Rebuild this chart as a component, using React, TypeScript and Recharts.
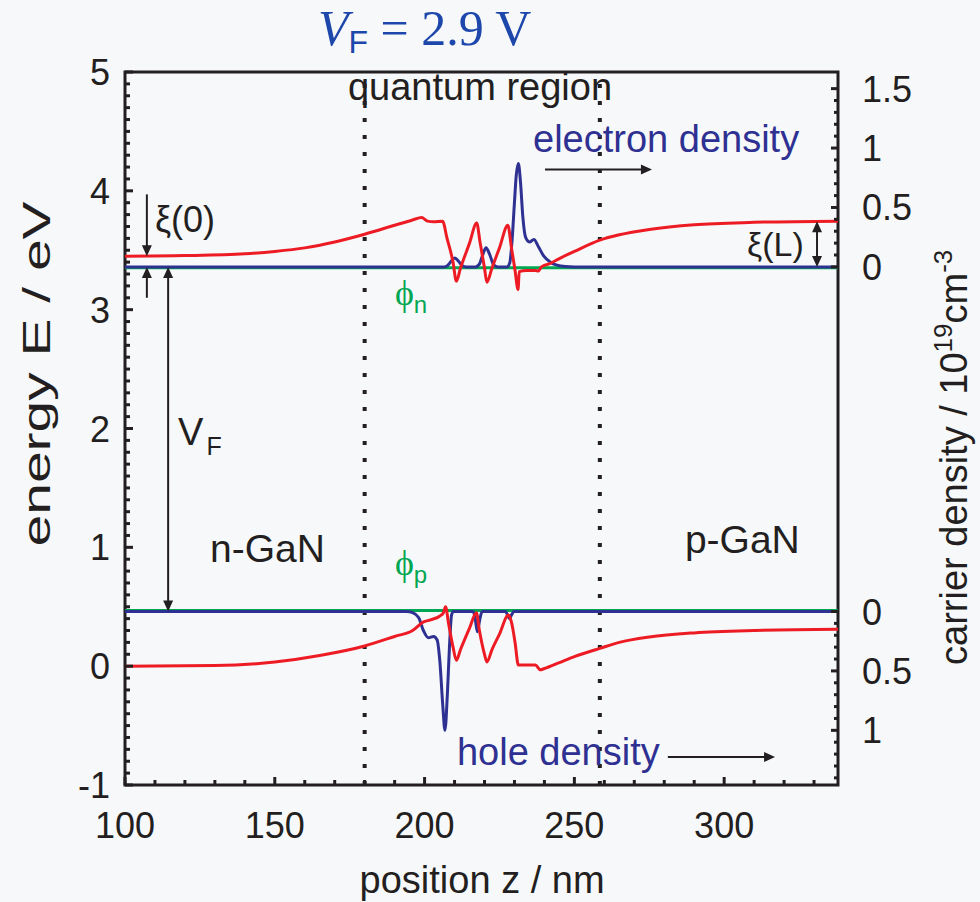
import React from 'react'
import {
  ComposedChart,
  Line,
  XAxis,
  YAxis,
  ReferenceLine,
  ReferenceArea,
  ReferenceDot,
} from 'recharts'

// ------------------------------------------------------------
// Band diagram of a GaN LED at V_F = 2.9 V
// energies in eV, position z in nm, densities in 1e19 cm^-3
// ------------------------------------------------------------

// conduction band edge Ec
const ecZ = [100, 120, 140, 150, 160, 170, 180, 190, 196, 199, 201, 203, 206, 207.5, 209.5, 210.6, 212, 215, 217.4, 218.5, 220, 220.8, 222.5, 225, 227.8, 229, 230.2, 231.2, 231.6, 234, 237, 238, 239, 242, 245, 250, 258.5, 265, 275, 290, 310, 338]
const ecE = [3.45, 3.455, 3.47, 3.49, 3.52, 3.57, 3.635, 3.71, 3.755, 3.775, 3.745, 3.74, 3.745, 3.6, 3.4, 3.24, 3.35, 3.56, 3.73, 3.57, 3.35, 3.23, 3.35, 3.52, 3.71, 3.52, 3.33, 3.17, 3.32, 3.33, 3.33, 3.325, 3.36, 3.39, 3.43, 3.49, 3.585, 3.63, 3.675, 3.715, 3.735, 3.745]

// valence band edge Ev
const evZ = [100, 130, 150, 165, 180, 190, 196, 199.5, 202, 205, 206.3, 207, 208, 209.5, 210.6, 212, 215, 217.3, 218.3, 220, 220.8, 222.5, 225, 228, 229, 230.2, 231.3, 234, 237, 238.6, 240, 245, 250, 258.5, 265, 275, 290, 310, 338]
const evE = [0, 0.005, 0.035, 0.09, 0.17, 0.25, 0.3, 0.37, 0.39, 0.42, 0.45, 0.5, 0.36, 0.16, 0.05, 0.14, 0.32, 0.45, 0.3, 0.1, 0.035, 0.14, 0.27, 0.43, 0.37, 0.2, 0.01, 0.01, 0.01, -0.03, -0.02, 0.03, 0.08, 0.15, 0.2, 0.245, 0.28, 0.3, 0.31]

// quasi fermi levels
const phiZ = [100, 338]
const phiN = [3.352, 3.352]
const phiP = [0.468, 0.468]

// electron density
const nZ = [100, 206.5, 207.6, 208.8, 210.1, 211.4, 212.6, 214, 217, 218.2, 219.4, 220.5, 221.8, 223, 224.5, 227.5, 228.4, 229.2, 229.9, 230.6, 231.3, 232, 232.8, 233.7, 235, 236.5, 238, 239.8, 242, 244.2, 247, 250, 338]
const nVal = [0, 0, 0.01, 0.045, 0.075, 0.045, 0.01, 0, 0, 0.02, 0.1, 0.16, 0.1, 0.02, 0, 0, 0.03, 0.22, 0.5, 0.77, 0.87, 0.72, 0.42, 0.25, 0.21, 0.23, 0.17, 0.09, 0.04, 0.015, 0.003, 0, 0]

// hole density
const pZ = [100, 194, 196, 198, 199.6, 201.2, 203, 204.2, 205.1, 206.1, 206.8, 207.6, 208.3, 209, 209.6, 216.2, 216.9, 217.6, 218.4, 219.2, 227, 227.7, 228.3, 229, 229.8, 338]
const pVal = [0, 0, 0.01, 0.05, 0.16, 0.22, 0.21, 0.24, 0.42, 0.8, 1.0, 0.7, 0.3, 0.03, 0, 0, 0.06, 0.17, 0.07, 0, 0, 0.03, 0.06, 0.03, 0, 0]

// axes
const xLabels = [100, 150, 200, 250, 300]
const yLabels = [-1, 0, 1, 2, 3, 4, 5]
const nLabels = [0, 0.5, 1, 1.5]
const pLabels = [0, 0.5, 1]

const Z_DOMAIN = [100, 338]
const E_DOMAIN = [-1, 5]
const N_ZERO = 3.36 // energy where the electron density axis is 0
const V_F = 2.9
const P_ZERO = N_ZERO - V_F
const quantumRegion = [180, 258.5]

const RED = '#ed1c24'
const BLUE = '#2e3192'
const GREEN = '#00a651'
const INK = '#231f20'
const TITLE_BLUE = '#1d47ab'
const SANS = '"Liberation Sans", Arial, sans-serif'
const SERIF = '"Liberation Serif", "Times New Roman", serif'

const ecData = ecZ.map((z, i) => ({ z, e: ecE[i] }))
const evData = evZ.map((z, i) => ({ z, e: evE[i] }))
const phiNData = phiZ.map((z, i) => ({ z, e: phiN[i] }))
const phiPData = phiZ.map((z, i) => ({ z, e: phiP[i] }))
const nData = nZ.map((z, i) => ({ z, n: nVal[i] }))
const pData = pZ.map((z, i) => ({ z, p: pVal[i] }))

const key = (v: number) => v.toFixed(2)

const xTicks: number[] = []
for (let z = 100; z <= 330; z += 10) xTicks.push(z)
const yTicks: number[] = []
for (let i = -10; i <= 50; i++) yTicks.push(i / 10)

// right axis is in electron-density units; hole part is mapped onto it
const rTicks: number[] = []
const rLabel: Record<string, string> = {}
for (let i = 0; i <= 15; i++) rTicks.push(Math.round(i * 10) / 100)
for (let i = 0; i <= 14; i++) rTicks.push(Math.round((P_ZERO - N_ZERO - i / 10) * 100) / 100)
nLabels.forEach((v) => (rLabel[key(v)] = String(v)))
pLabels.forEach((v) => (rLabel[key(P_ZERO - N_ZERO - v)] = String(v)))

function XTick(props: any) {
  const { x, y, payload } = props
  const v = payload.value
  const major = xLabels.includes(v)
  return (
    <g>
      <line x1={x} x2={x} y1={y} y2={y - (major ? 8 : 5)} stroke={INK} strokeWidth={3} />
      {major && (
        <text x={x} y={y + 53} textAnchor="middle" fontSize={36} fill={INK} fontFamily={SANS}>
          {v}
        </text>
      )}
    </g>
  )
}

function YTick(props: any) {
  const { x, y, payload } = props
  const v = Math.round(payload.value * 10) / 10
  const major = yLabels.includes(v)
  return (
    <g>
      <line x1={x} x2={x + (major ? 8 : 5)} y1={y} y2={y} stroke={INK} strokeWidth={3} />
      {major && (
        <text x={x - 15} y={y + 13} textAnchor="end" fontSize={36} fill={INK} fontFamily={SANS}>
          {v < 0 ? '-' + Math.abs(v) : v}
        </text>
      )}
    </g>
  )
}

function RTick(props: any) {
  const { x, y, payload } = props
  const label = rLabel[key(payload.value)]
  return (
    <g>
      <line x1={x} x2={x - (label ? 7 : 4)} y1={y} y2={y} stroke={INK} strokeWidth={3} />
      {label && (
        <text x={x + 24} y={y + 13} textAnchor="start" fontSize={36} fill={INK} fontFamily={SANS}>
          {label}
        </text>
      )}
    </g>
  )
}

const arrowShape = (both: boolean) => (p: any) => {
  const { x1, y1, x2, y2 } = p
  const len = Math.hypot(x2 - x1, y2 - y1) || 1
  const ux = (x2 - x1) / len
  const uy = (y2 - y1) / len
  const head = (tx: number, ty: number, dx: number, dy: number) => {
    const bx = tx - dx * 11
    const by = ty - dy * 11
    return `${tx},${ty} ${bx - dy * 5},${by + dx * 5} ${bx + dy * 5},${by - dx * 5}`
  }
  return (
    <g>
      <line
        x1={both ? x1 + ux * 10 : x1}
        y1={both ? y1 + uy * 10 : y1}
        x2={x2 - ux * 10}
        y2={y2 - uy * 10}
        stroke={INK}
        strokeWidth={2}
      />
      <polygon points={head(x2, y2, ux, uy)} fill={INK} />
      {both && <polygon points={head(x1, y1, -ux, -uy)} fill={INK} />}
    </g>
  )
}

function Arrow(z1: number, e1: number, z2: number, e2: number, both = false) {
  return (
    <ReferenceLine
      key={`a${z1}-${e1}`}
      yAxisId="E"
      ifOverflow="visible"
      segment={[{ x: z1, y: e1 }, { x: z2, y: e2 }]}
      shape={arrowShape(both)}
    />
  )
}

function Note(z: number, e: number, render: (x: number, y: number) => React.ReactNode) {
  return (
    <ReferenceDot
      key={`n${z}-${e}`}
      yAxisId="E"
      x={z}
      y={e}
      r={0}
      ifOverflow="visible"
      shape={(p: any) => <g>{render(p.cx, p.cy)}</g>}
    />
  )
}

export default function App() {
  return (
    <div style={{ position: 'absolute', left: 0, top: 0, width: 980, height: 902, background: '#f7f8fa' }}>
      <ComposedChart width={980} height={902} margin={{ top: 72, right: 42, bottom: 57, left: 25 }}>
        <XAxis
          type="number"
          dataKey="z"
          domain={Z_DOMAIN}
          allowDataOverflow
          ticks={xTicks}
          interval={0}
          tick={XTick}
          tickLine={false}
          axisLine={false}
          tickSize={0}
          tickMargin={0}
          height={60}
        />
        <YAxis
          yAxisId="E"
          type="number"
          domain={E_DOMAIN}
          allowDataOverflow
          ticks={yTicks}
          interval={0}
          tick={YTick}
          tickLine={false}
          axisLine={false}
          tickSize={0}
          tickMargin={0}
          width={100}
        />
        <YAxis
          yAxisId="n"
          orientation="right"
          type="number"
          domain={[E_DOMAIN[0] - N_ZERO, E_DOMAIN[1] - N_ZERO]}
          allowDataOverflow
          ticks={rTicks}
          interval={0}
          tick={RTick}
          tickLine={false}
          axisLine={false}
          tickSize={0}
          tickMargin={0}
          width={100}
        />
        <YAxis
          yAxisId="p"
          orientation="right"
          type="number"
          hide
          reversed
          domain={[P_ZERO - E_DOMAIN[1], P_ZERO - E_DOMAIN[0]]}
          allowDataOverflow
        />

        {quantumRegion.map((z) => (
          <ReferenceLine key={z} yAxisId="E" x={z} stroke={INK} strokeWidth={4} strokeDasharray="4 13" />
        ))}

        <Line yAxisId="E" data={phiNData} dataKey="e" type="linear" stroke={GREEN} strokeWidth={3} dot={false} isAnimationActive={false} />
        <Line yAxisId="E" data={phiPData} dataKey="e" type="linear" stroke={GREEN} strokeWidth={3} dot={false} isAnimationActive={false} />
        <Line yAxisId="n" data={nData} dataKey="n" type="monotone" stroke={BLUE} strokeWidth={3} dot={false} isAnimationActive={false} />
        <Line yAxisId="p" data={pData} dataKey="p" type="monotone" stroke={BLUE} strokeWidth={3} dot={false} isAnimationActive={false} />
        <Line yAxisId="E" data={ecData} dataKey="e" type="monotone" stroke={RED} strokeWidth={3} dot={false} isAnimationActive={false} />
        <Line yAxisId="E" data={evData} dataKey="e" type="monotone" stroke={RED} strokeWidth={3} dot={false} isAnimationActive={false} />

        <ReferenceArea
          yAxisId="E"
          x1={Z_DOMAIN[0]}
          x2={Z_DOMAIN[1]}
          y1={E_DOMAIN[0]}
          y2={E_DOMAIN[1]}
          fill="none"
          fillOpacity={0}
          stroke={INK}
          strokeWidth={3}
          ifOverflow="visible"
        />

        {/* arrows */}
        {Arrow(107.3, 3.97, 107.3, 3.45)}
        {Arrow(107.3, 3.1, 107.3, N_ZERO)}
        {Arrow(114.4, N_ZERO, 114.4, P_ZERO, true)}
        {Arrow(331, 3.745, 331, N_ZERO, true)}
        {Arrow(240.2, 4.18, 275.9, 4.18)}
        {Arrow(281.2, -0.765, 317, -0.765)}

        {/* text */}
        {Note(164.4, 5.23, (x, y) => (
          <text x={x} y={y} fill={TITLE_BLUE} fontFamily={SERIF} fontSize={50}>
            <tspan fontStyle="italic">V</tspan>
            <tspan fontFamily={SANS} fontSize={32} dy={8}>F</tspan>
            <tspan dy={-8}> = 2.9 V</tspan>
          </text>
        ))}
        {Note(218.5, 4.765, (x, y) => (
          <text x={x} y={y} textAnchor="middle" fill={INK} fontFamily={SANS} fontSize={38}>quantum region</text>
        ))}
        {Note(236.2, 4.327, (x, y) => (
          <text x={x} y={y} fill={BLUE} fontFamily={SANS} fontSize={38}>electron density</text>
        ))}
        {Note(210.8, -0.832, (x, y) => (
          <text x={x} y={y} fill={BLUE} fontFamily={SANS} fontSize={38}>hole density</text>
        ))}
        {Note(110, 3.654, (x, y) => (
          <text x={x} y={y} fill={INK} fontFamily={SANS} fontSize={36}>ξ(0)</text>
        ))}
        {Note(307.6, 3.452, (x, y) => (
          <text x={x} y={y} fill={INK} fontFamily={SANS} fontSize={34}>ξ(L)</text>
        ))}
        {Note(190.1, 3.039, (x, y) => (
          <text x={x} y={y} fill={GREEN} fontFamily={SERIF} fontSize={36}>
            ϕ<tspan fontFamily={SANS} fontSize={24} dy={8}>n</tspan>
          </text>
        ))}
        {Note(190.1, 0.767, (x, y) => (
          <text x={x} y={y} fill={GREEN} fontFamily={SERIF} fontSize={36}>
            ϕ<tspan fontFamily={SANS} fontSize={24} dy={8}>p</tspan>
          </text>
        ))}
        {Note(117.7, 1.861, (x, y) => (
          <text x={x} y={y} fill={INK} fontFamily={SANS} fontSize={38}>
            V<tspan fontSize={25} dx={3} dy={10}>F</tspan>
          </text>
        ))}
        {Note(128.4, 0.877, (x, y) => (
          <text x={x} y={y} fill={INK} fontFamily={SANS} fontSize={39}>n-GaN</text>
        ))}
        {Note(286.9, 0.952, (x, y) => (
          <text x={x} y={y} fill={INK} fontFamily={SANS} fontSize={39}>p-GaN</text>
        ))}

        {/* axis titles */}
        {Note(219.2, -1.909, (x, y) => (
          <text x={x} y={y} textAnchor="middle" fill={INK} fontFamily={SANS} fontSize={38}>position z / nm</text>
        ))}
        {Note(75, 2.459, (x, y) => (
          <text
            x={x}
            y={y}
            textAnchor="middle"
            transform={`rotate(-90 ${x} ${y})`}
            fill={INK}
            fontFamily={SANS}
            fontSize={38}
            textLength={345}
            lengthAdjust="spacingAndGlyphs"
          >
            energy E / eV
          </text>
        ))}
        {Note(381, 0.01, (x, y) => (
          <text x={x} y={y} textAnchor="start" transform={`rotate(-90 ${x} ${y})`} fill={INK} fontFamily={SANS} fontSize={38}>
            carrier density / 10<tspan fontSize={26} dy={-15}>19</tspan>
            <tspan dy={15}>cm</tspan>
            <tspan fontSize={26} dy={-15}>-3</tspan>
          </text>
        ))}
      </ComposedChart>
    </div>
  )
}
